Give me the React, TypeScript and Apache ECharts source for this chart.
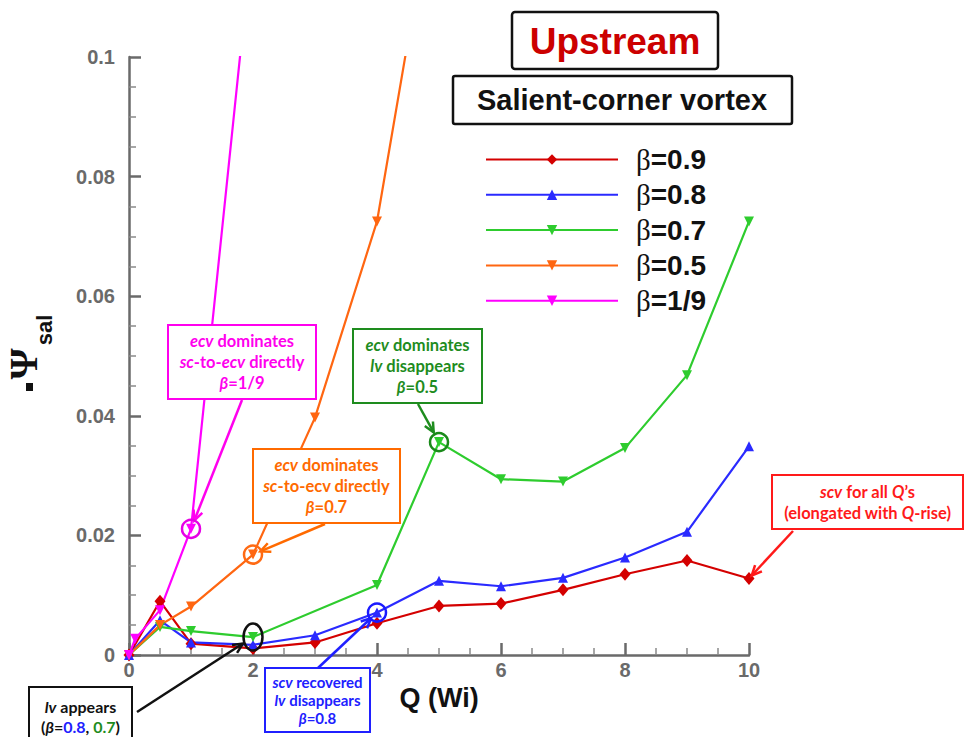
import React, { useEffect, useRef } from 'react';
import * as echarts from 'echarts';

// Dimensionless flow rate Q (Wi) per series
const qBeta09 = [0, 0.5, 1, 2, 3, 4, 5, 6, 7, 8, 9, 10];
const qBeta08 = [0, 0.5, 1, 2, 3, 4, 5, 6, 7, 8, 9, 10];
const qBeta07 = [0, 0.5, 1, 2, 4, 5, 6, 7, 8, 9, 10];
const qBeta05 = [0, 0.5, 1, 2, 3, 4, 5];
const qBeta19 = [0, 0.1, 0.5, 1, 2];

// -Psi_sal, salient-corner vortex intensity
const psiBeta09 = [0, 0.009, 0.0019, 0.0011, 0.0021, 0.0053, 0.0082, 0.0086, 0.0109, 0.0135, 0.0158, 0.0128];
const psiBeta08 = [0, 0.0058, 0.0021, 0.0017, 0.0033, 0.0071, 0.0124, 0.0115, 0.0129, 0.0163, 0.0206, 0.0349];
const psiBeta07 = [0, 0.0047, 0.004, 0.003, 0.0117, 0.0356, 0.0294, 0.029, 0.0346, 0.0468, 0.0725];
const psiBeta05 = [0, 0.005, 0.0081, 0.0168, 0.0397, 0.0725, 0.133];
const psiBeta19 = [0, 0.0027, 0.0075, 0.0211, 0.121];

const seriesNames = ['β=0.9', 'β=0.8', 'β=0.7', 'β=0.5', 'β=1/9'];
const seriesColors = ['#d40000', '#2a2aff', '#2ecc2e', '#ff6611', '#ff00ff'];

const SANS = '"Liberation Sans", Arial, sans-serif';
const NOTE = 'Lato, "Open Sans", sans-serif';
const AXIS_GRAY = '#6a6a6a';

const pairs = (xs: number[], ys: number[]) => xs.map((x, i) => [x, ys[i]]);

function makeSeries(
  name: string,
  color: string,
  data: number[][],
  symbol: string,
  symbolSize: number | number[],
  rotate: number
) {
  return {
    name,
    type: 'line',
    data,
    symbol,
    symbolSize,
    symbolRotate: rotate,
    clip: true,
    lineStyle: { color, width: 2.2 },
    itemStyle: { color },
    z: 3,
  };
}

type Frag = [string, string];

function noteBox(
  x: number,
  y: number,
  w: number,
  h: number,
  color: string,
  lines: Frag[][],
  fontSize: number,
  lineHeight: number
) {
  const base = { fontFamily: NOTE, fontWeight: 'bold', fontSize, lineHeight, fill: color };
  const rich: Record<string, any> = {
    r: { ...base },
    i: { ...base, fontStyle: 'italic' },
    b: { ...base, fill: '#2020ff' },
    g: { ...base, fill: '#1e8c1e' },
  };
  const text = lines.map((ln) => ln.map(([k, s]) => `{${k}|${s}}`).join('')).join('\n');
  return [
    {
      type: 'rect',
      z: 100,
      shape: { x, y, width: w, height: h },
      style: { fill: '#fff', stroke: color, lineWidth: 2 },
    },
    {
      type: 'text',
      z: 101,
      x: x + w / 2,
      y: y + h / 2,
      style: { text, rich, align: 'center', verticalAlign: 'middle', fill: color },
    },
  ];
}

function arrow(x1: number, y1: number, x2: number, y2: number, color: string) {
  const dx = x2 - x1;
  const dy = y2 - y1;
  const len = Math.hypot(dx, dy);
  const ux = dx / len;
  const uy = dy / len;
  const L = 11;
  const a = (25 * Math.PI) / 180;
  const rot = (ang: number) => [
    x2 - L * (ux * Math.cos(ang) - uy * Math.sin(ang)),
    y2 - L * (ux * Math.sin(ang) + uy * Math.cos(ang)),
  ];
  return [
    {
      type: 'line',
      z: 102,
      shape: { x1, y1, x2, y2 },
      style: { stroke: color, lineWidth: 2.5 },
    },
    {
      type: 'polyline',
      z: 102,
      shape: { points: [rot(a), [x2, y2], rot(-a)] },
      style: { stroke: color, lineWidth: 2.5, fill: 'none' },
    },
  ];
}

// arrow that stops short of a target point by `gap` pixels
function arrowTo(x1: number, y1: number, t: number[], gap: number, color: string) {
  const dx = t[0] - x1;
  const dy = t[1] - y1;
  const len = Math.hypot(dx, dy);
  return arrow(x1, y1, t[0] - (dx / len) * gap, t[1] - (dy / len) * gap, color);
}

const axisCommon = {
  type: 'value',
  axisLine: { show: true, onZero: false, lineStyle: { color: AXIS_GRAY, width: 2.5 } },
  axisTick: { show: true, inside: true, length: 12, lineStyle: { color: AXIS_GRAY, width: 2.5 } },
  minorTick: { show: true, splitNumber: 4, length: 7, lineStyle: { color: '#8a8a8a', width: 1.5 } },
  splitLine: { show: false },
  minorSplitLine: { show: false },
};

const labelCommon = {
  color: AXIS_GRAY,
  fontFamily: SANS,
  fontWeight: 'bold',
  fontSize: 20,
};

export default function App() {
  const ref = useRef<HTMLDivElement>(null);

  useEffect(() => {
    if (!ref.current) return;
    const chart = echarts.init(ref.current, undefined, { renderer: 'svg' });

    chart.setOption({
      animation: false,
      backgroundColor: '#ffffff',
      grid: { left: 129, right: 216, top: 57, bottom: 82 },
      xAxis: {
        ...axisCommon,
        min: 0,
        max: 10,
        interval: 2,
        name: 'Q (Wi)',
        nameLocation: 'middle',
        nameGap: 16,
        nameTextStyle: { color: '#111', fontFamily: SANS, fontWeight: 'bold', fontSize: 27 },
        axisLabel: { ...labelCommon, margin: 5 },
      },
      yAxis: {
        ...axisCommon,
        min: 0,
        max: 0.1,
        interval: 0.02,
        axisLabel: {
          ...labelCommon,
          margin: 14,
          formatter: (v: number) => (v === 0 ? '0' : String(+v.toFixed(2))),
        },
      },
      legend: {
        orient: 'vertical',
        left: 480,
        top: 140,
        itemWidth: 132,
        itemHeight: 13,
        itemGap: 6.3,
        selectedMode: false,
        data: seriesNames,
        formatter: (name: string) => `{g|β}{n|${name.slice(1)}}`,
        textStyle: {
          lineHeight: 20,
          rich: {
            g: {
              fontFamily: '"Liberation Serif", "DejaVu Serif", serif',
              fontSize: 29,
              color: '#111',
              lineHeight: 20,
              padding: [0, 0, 0, 13],
            },
            n: { fontFamily: SANS, fontWeight: 'bold', fontSize: 28, color: '#111', lineHeight: 20 },
          },
        },
      },
      series: [
        makeSeries(seriesNames[0], seriesColors[0], pairs(qBeta09, psiBeta09), 'diamond', [11, 13], 0),
        makeSeries(seriesNames[1], seriesColors[1], pairs(qBeta08, psiBeta08), 'triangle', 10, 0),
        makeSeries(seriesNames[2], seriesColors[2], pairs(qBeta07, psiBeta07), 'triangle', 10, 180),
        makeSeries(seriesNames[3], seriesColors[3], pairs(qBeta05, psiBeta05), 'triangle', 10, 180),
        makeSeries(seriesNames[4], seriesColors[4], pairs(qBeta19, psiBeta19), 'triangle', 10, 180),
      ],
    });

    const px = (q: number, v: number) => chart.convertToPixel({ gridIndex: 0 }, [q, v]) as number[];

    const pMag = px(qBeta19[3], psiBeta19[3]);
    const pOra = px(qBeta05[3], psiBeta05[3]);
    const pGrn = px(qBeta07[5], psiBeta07[5]);
    const pLv = px(qBeta07[3], psiBeta07[3]);
    const pBlu = px(qBeta08[5], psiBeta08[5]);
    const pRed = px(qBeta09[11], psiBeta09[11]);

    const ring = (p: number[], color: string) => ({
      type: 'circle',
      z: 103,
      shape: { cx: p[0], cy: p[1], r: 9 },
      style: { fill: 'none', stroke: color, lineWidth: 2.5 },
    });

    const graphic: any[] = [
      // title boxes
      {
        type: 'rect',
        z: 100,
        shape: { x: 512, y: 12, width: 206, height: 57, r: 3 },
        style: { fill: '#fff', stroke: '#111', lineWidth: 2.5 },
      },
      {
        type: 'text',
        z: 101,
        x: 615,
        y: 41,
        style: {
          text: 'Upstream',
          fill: '#cc0000',
          font: `bold 37px ${SANS}`,
          align: 'center',
          verticalAlign: 'middle',
        },
      },
      {
        type: 'rect',
        z: 100,
        shape: { x: 453, y: 76, width: 339, height: 48, r: 2 },
        style: { fill: '#fff', stroke: '#111', lineWidth: 2.5 },
      },
      {
        type: 'text',
        z: 101,
        x: 622,
        y: 100,
        style: {
          text: 'Salient-corner vortex',
          fill: '#111',
          font: `bold 29px ${SANS}`,
          align: 'center',
          verticalAlign: 'middle',
        },
      },
      // y axis title: -Ψ_sal
      { type: 'rect', z: 101, shape: { x: 26, y: 383, width: 7, height: 8 }, style: { fill: '#111' } },
      {
        type: 'text',
        z: 101,
        x: 23,
        y: 364,
        rotation: Math.PI / 2,
        style: {
          text: 'Ψ',
          fill: '#111',
          font: 'bold 40px "Liberation Serif", "DejaVu Serif", serif',
          align: 'center',
          verticalAlign: 'middle',
        },
      },
      {
        type: 'text',
        z: 101,
        x: 44,
        y: 330,
        rotation: Math.PI / 2,
        style: {
          text: 'sal',
          fill: '#111',
          font: `bold 22px ${SANS}`,
          align: 'center',
          verticalAlign: 'middle',
        },
      },
      // annotation boxes
      ...noteBox(168, 325, 148, 74, '#ff00ee', [
        [['i', 'ecv'], ['r', ' dominates']],
        [['i', 'sc'], ['r', '-to-'], ['i', 'ecv'], ['r', ' directly']],
        [['i', 'β'], ['r', '=1/9']],
      ], 16.5, 21),
      ...noteBox(253, 449, 147, 74, '#ff6a00', [
        [['i', 'ecv'], ['r', ' dominates']],
        [['i', 'sc'], ['r', '-to-ecv directly']],
        [['i', 'β'], ['r', '=0.7']],
      ], 16.5, 21),
      ...noteBox(353, 329, 129, 74, '#1e8c1e', [
        [['i', 'ecv'], ['r', ' dominates']],
        [['i', 'lv'], ['r', ' disappears']],
        [['i', 'β'], ['r', '=0.5']],
      ], 16.5, 21),
      ...noteBox(265, 668, 105, 64, '#2020ff', [
        [['i', 'scv'], ['r', ' recovered']],
        [['i', 'lv'], ['r', ' disappears']],
        [['i', 'β'], ['r', '=0.8']],
      ], 15, 18),
      ...noteBox(772, 475, 191, 54, '#ff1a1a', [
        [['i', 'scv'], ['r', ' for all '], ['i', 'Q'], ['r', '’s']],
        [['r', '(elongated with '], ['i', 'Q'], ['r', '-rise)']],
      ], 16.5, 21),
      ...noteBox(29, 687, 103, 58, '#111111', [
        [['i', 'lv'], ['r', ' appears']],
        [['r', '('], ['i', 'β'], ['r', '='], ['b', '0.8'], ['r', ', '], ['g', '0.7'], ['r', ')']],
      ], 16, 20),
      // highlight rings
      ring(pMag, '#e600e6'),
      ring(pOra, '#ff6a13'),
      ring(pGrn, '#1a8a1a'),
      ring(pBlu, '#1a1aff'),
      {
        type: 'ellipse',
        z: 103,
        shape: { cx: pLv[0], cy: pLv[1], rx: 9.5, ry: 13.5 },
        style: { fill: 'none', stroke: '#111', lineWidth: 2.5 },
      },
      // arrows
      ...arrowTo(242, 400, pMag, 9, '#ff00ee'),
      ...arrowTo(325, 524, pOra, 8, '#ff6a00'),
      ...arrowTo(418, 404, pGrn, 11, '#1e8c1e'),
      ...arrowTo(318, 668, pBlu, 8, '#2020ff'),
      ...arrowTo(137, 712, pLv, 12, '#111111'),
      ...arrowTo(793, 531, pRed, 4, '#ff1a1a'),
    ];

    chart.setOption({ graphic });

    return () => chart.dispose();
  }, []);

  return <div ref={ref} style={{ position: 'fixed', left: 0, top: 0, width: 965, height: 737 }} />;
}
